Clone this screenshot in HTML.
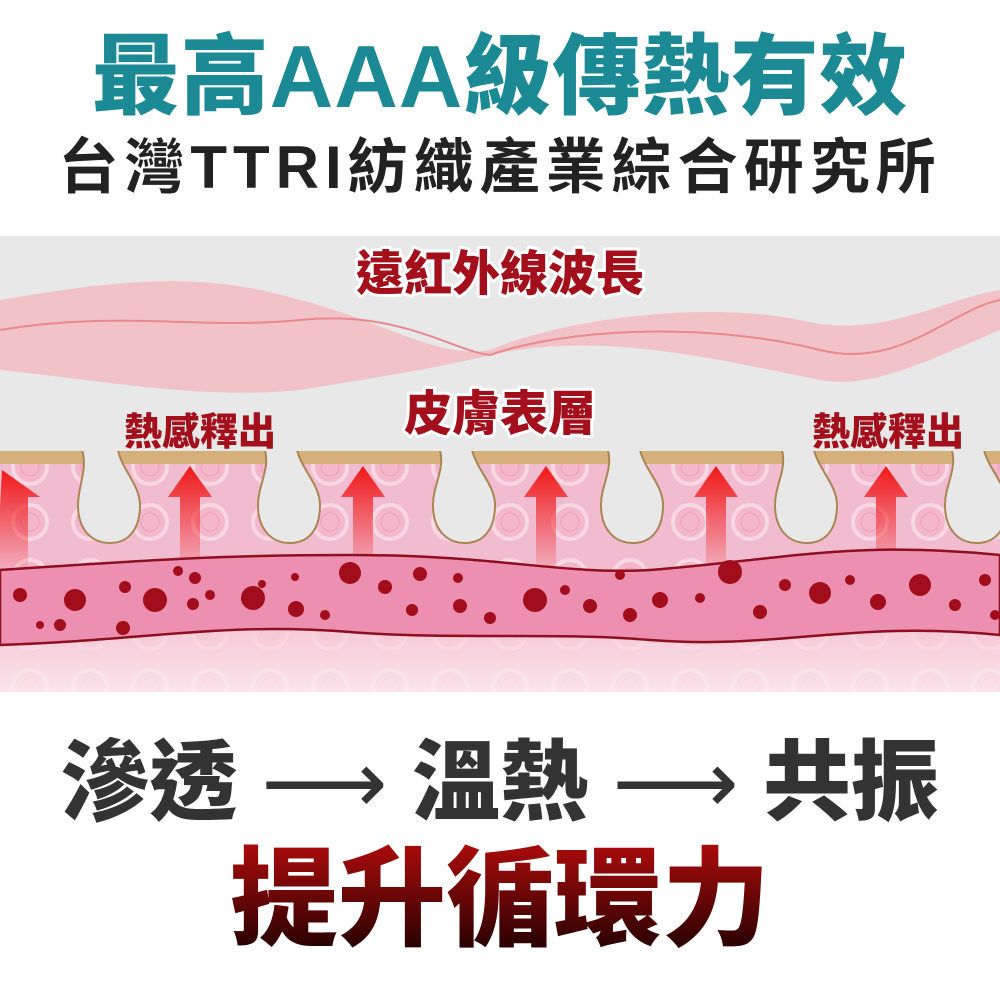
<!DOCTYPE html>
<html><head><meta charset="utf-8"><style>
html,body{margin:0;padding:0;background:#fff;}
body{width:1000px;height:1000px;position:relative;overflow:hidden;font-family:"Liberation Sans","Noto Sans CJK TC",sans-serif;}
.t{position:absolute;left:0;width:1000px;text-align:center;font-weight:900;white-space:nowrap;}
</style></head><body>
<div class="t" style="top:22px;font-size:88px;line-height:110px;color:#1b8a95;letter-spacing:1px;">最高AAA級傳熱有效</div>
<div class="t" style="top:133px;font-size:60px;line-height:70px;color:#222;font-weight:700;letter-spacing:6px;">台灣TTRI紡織產業綜合研究所</div>

<svg style="position:absolute;left:0;top:236px" width="1000" height="456" viewBox="0 236 1000 456">
<defs>
<linearGradient id="arr" x1="0" y1="0" x2="0" y2="1"><stop offset="0" stop-color="#f01818"/><stop offset="1" stop-color="#f01818" stop-opacity="0"/></linearGradient>
<linearGradient id="bot" x1="0" y1="0" x2="0" y2="1"><stop offset="0" stop-color="#f5c9d6"/><stop offset="1" stop-color="#fdf1f4"/></linearGradient>
<pattern id="cells" width="60" height="55" patternUnits="userSpaceOnUse"><circle cx="30" cy="27" r="17" fill="#f3b6cb" stroke="#f8d8e3" stroke-width="4"/><circle cx="30" cy="27" r="9" fill="none" stroke="#e9a0bb" stroke-width="1"/></pattern>
</defs>
<rect x="0" y="236" width="1000" height="456" fill="#e8e8e8"/>
<path d="M0 300 C120 280 200 270 300 300 C380 320 440 360 490 350 C560 320 700 300 800 320 C880 340 940 300 1000 290 L1000 330 C930 360 870 390 820 380 C720 360 600 330 490 355 C430 370 360 380 300 390 C200 400 100 380 0 370 Z" fill="#f3b9bf" opacity="0.8"/>
<path d="M0 330 C120 310 200 330 300 320 C400 310 450 350 490 355 C560 330 700 320 820 350 C900 370 950 310 1000 300" fill="none" stroke="#e9888f" stroke-width="2"/>
<rect x="0" y="452" width="1000" height="240" fill="#f2bcd0"/>
<rect x="0" y="455" width="1000" height="237" fill="url(#cells)"/>
<rect x="0" y="620" width="1000" height="72" fill="url(#bot)" opacity="0.75"/>
<rect x="0" y="450" width="1000" height="14" fill="#d6b07a"/>
<g fill="#e8e8e8" stroke="#a98654" stroke-width="2">
<path d="M82 450 C88 470 78 485 78 505 C78 530 92 543 110 543 C128 543 140 530 140 505 C140 485 122 470 118 450 Z"/>
<path d="M265 450 C270 470 258 485 258 505 C258 530 272 543 290 543 C308 543 320 530 320 505 C320 485 302 470 297 450 Z"/>
<path d="M440 450 C445 470 433 485 433 505 C433 530 447 543 465 543 C483 543 495 530 495 505 C495 485 477 470 472 450 Z"/>
<path d="M608 450 C613 470 601 485 601 505 C601 530 615 543 633 543 C651 543 663 530 663 505 C663 485 645 470 640 450 Z"/>
<path d="M782 450 C787 470 775 485 775 505 C775 530 789 543 807 543 C825 543 837 530 837 505 C837 485 819 470 814 450 Z"/>
<path d="M952 450 C957 470 945 485 945 505 C945 530 959 543 977 543 C995 543 1007 530 1007 505 C1007 485 989 470 984 450 Z"/>
</g>
<rect x="0" y="449" width="1000" height="2" fill="#e8e8e8"/>
<g fill="url(#arr)">
<path d="M2 470 L40 497 L28 497 L28 580 L-4 580 Z"/>
<path d="M190 466 L212 497 L200 497 L200 580 L180 580 L180 497 L168 497 Z"/>
<path d="M363 466 L385 497 L373 497 L373 580 L353 580 L353 497 L341 497 Z"/>
<path d="M546 466 L568 497 L556 497 L556 580 L536 580 L536 497 L524 497 Z"/>
<path d="M716 466 L738 497 L726 497 L726 580 L706 580 L706 497 L694 497 Z"/>
<path d="M886 466 L908 497 L896 497 L896 580 L876 580 L876 497 L864 497 Z"/>
</g>
<path d="M0 570 C150 560 220 555 350 555 C500 555 560 575 650 570 C780 560 850 540 1000 555 L1000 635 C850 620 780 650 650 640 C560 632 450 640 350 632 C220 622 150 640 0 645 Z" fill="#ec8fb0" stroke="#8e0f1e" stroke-width="2.5"/>
<g fill="#a10d1a">
<circle cx="20" cy="595" r="7"/><circle cx="75" cy="600" r="11"/><circle cx="40" cy="625" r="4"/><circle cx="60" cy="625" r="6"/><circle cx="125" cy="587" r="6"/><circle cx="155" cy="600" r="12"/><circle cx="123" cy="628" r="7"/><circle cx="178" cy="571" r="5"/><circle cx="195" cy="578" r="6"/><circle cx="210" cy="595" r="5"/><circle cx="193" cy="604" r="6"/><circle cx="253" cy="598" r="12"/><circle cx="262" cy="584" r="4"/><circle cx="295" cy="577" r="4"/><circle cx="296" cy="609" r="8"/><circle cx="325" cy="615" r="5"/><circle cx="350" cy="573" r="11"/><circle cx="385" cy="587" r="7"/><circle cx="420" cy="574" r="7"/><circle cx="412" cy="610" r="6"/><circle cx="458" cy="578" r="5"/><circle cx="460" cy="606" r="7"/><circle cx="490" cy="618" r="6"/><circle cx="535" cy="600" r="12"/><circle cx="565" cy="590" r="5"/><circle cx="590" cy="606" r="7"/><circle cx="620" cy="575" r="5"/><circle cx="630" cy="615" r="7"/><circle cx="660" cy="600" r="8"/><circle cx="700" cy="598" r="5"/><circle cx="730" cy="572" r="12"/><circle cx="760" cy="612" r="7"/><circle cx="785" cy="585" r="6"/><circle cx="820" cy="593" r="11"/><circle cx="850" cy="580" r="5"/><circle cx="878" cy="602" r="8"/><circle cx="920" cy="585" r="11"/><circle cx="955" cy="605" r="6"/><circle cx="985" cy="580" r="6"/><circle cx="995" cy="615" r="5"/>
</g>
<g font-family="'Liberation Sans','Noto Sans CJK TC',sans-serif" font-weight="900" fill="#a3101c" stroke="#fff" stroke-width="6" paint-order="stroke" stroke-linejoin="round">
<text x="500" y="290" font-size="48" text-anchor="middle">遠紅外線波長</text>
<text x="500" y="430" font-size="48" text-anchor="middle">皮膚表層</text>
<text x="200" y="445" font-size="38" text-anchor="middle" stroke-width="0">熱感釋出</text>
<text x="888" y="445" font-size="38" text-anchor="middle" stroke-width="0">熱感釋出</text>
</g>
</svg>

<div class="t" style="top:733px;font-size:88px;line-height:100px;color:#333;">滲透 <span style="font-weight:400">⟶</span> 溫熱 <span style="font-weight:400">⟶</span> 共振</div>
<div class="t" style="top:840px;font-size:108px;line-height:120px;background:linear-gradient(#b00c0c,#1a0000);-webkit-background-clip:text;background-clip:text;color:transparent;">提升循環力</div>
</body></html>
